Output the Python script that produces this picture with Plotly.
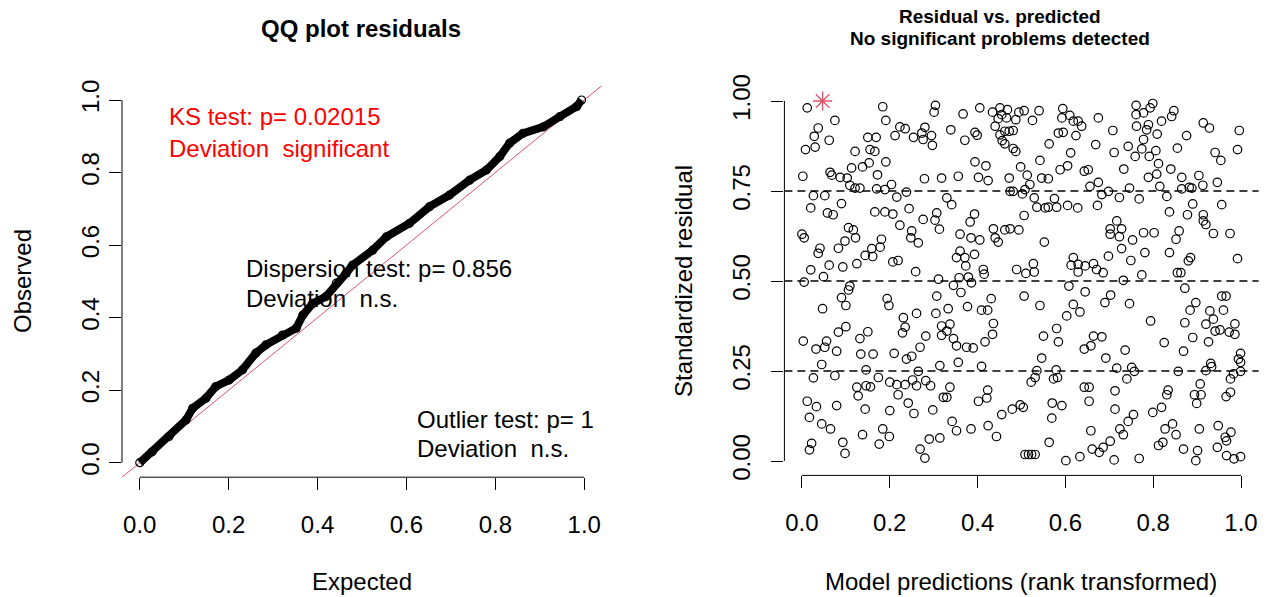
import plotly.graph_objects as go

# ---------------- data ----------------
# QQ plot of scaled residuals: expected vs observed quantiles
qq_expected = [0.0, 0.028, 0.066, 0.104, 0.119, 0.149, 0.171, 0.201, 0.231, 0.261, 0.284,
               0.321, 0.352, 0.367, 0.389, 0.419, 0.442, 0.464, 0.479, 0.524, 0.555, 0.607,
               0.652, 0.697, 0.742, 0.780, 0.810, 0.832, 0.862, 0.908, 0.945, 0.983, 0.994]
qq_observed = [0.0, 0.030, 0.072, 0.118, 0.150, 0.178, 0.210, 0.228, 0.256, 0.302, 0.325,
               0.352, 0.371, 0.407, 0.439, 0.458, 0.495, 0.522, 0.545, 0.586, 0.623, 0.660,
               0.706, 0.738, 0.779, 0.807, 0.844, 0.881, 0.908, 0.926, 0.954, 0.982, 1.0]

ks_text = ["KS test: p= 0.02015", "Deviation\u00a0\u00a0significant"]
disp_text = ["Dispersion test: p= 0.856", "Deviation\u00a0\u00a0n.s."]
outlier_text = ["Outlier test: p= 1", "Deviation\u00a0\u00a0n.s."]

# residuals vs rank-transformed predictions
resid_points = [
    (0.012,0.981),(0.184,0.984),(0.304,0.988),(0.301,0.969),(0.075,0.946),(0.191,0.946),(0.037,0.925),
    (0.223,0.928),(0.235,0.923),(0.280,0.927),(0.273,0.911),(0.028,0.902),(0.062,0.891),(0.150,0.899),
    (0.169,0.899),(0.212,0.904),(0.254,0.899),(0.276,0.893),(0.295,0.904),(0.297,0.877),(0.008,0.865),
    (0.030,0.872),(0.121,0.860),(0.155,0.865),(0.166,0.860),(0.191,0.831),(0.153,0.828),(0.138,0.817),
    (0.113,0.814),(0.002,0.791),(0.064,0.802),(0.068,0.794),(0.087,0.788),(0.103,0.786),(0.109,0.766),
    (0.132,0.758),(0.172,0.795),(0.279,0.784),(0.318,0.786),(0.170,0.756),(0.189,0.754),(0.204,0.768),
    (0.216,0.733),(0.238,0.747),(0.026,0.737),(0.052,0.737),(0.090,0.715),(0.020,0.703),(0.058,0.689),
    (0.071,0.684),(0.166,0.692),(0.189,0.692),(0.207,0.686),(0.244,0.701),(0.307,0.689),(0.121,0.758),
    (0.367,0.964),(0.405,0.981),(0.434,0.969),(0.451,0.981),(0.468,0.976),(0.455,0.962),(0.447,0.951),
    (0.466,0.953),(0.487,0.948),(0.494,0.969),(0.506,0.973),(0.540,0.973),(0.525,0.946),(0.594,0.979),
    (0.610,0.960),(0.592,0.953),(0.618,0.944),(0.629,0.944),(0.637,0.930),(0.675,0.953),(0.339,0.920),
    (0.394,0.913),(0.399,0.905),(0.371,0.891),(0.440,0.930),(0.451,0.906),(0.462,0.916),(0.472,0.916),
    (0.481,0.918),(0.456,0.890),(0.462,0.881),(0.481,0.868),(0.487,0.860),(0.584,0.911),(0.595,0.913),
    (0.624,0.904),(0.563,0.881),(0.669,0.879),(0.612,0.856),(0.542,0.835),(0.394,0.831),(0.419,0.820),
    (0.498,0.817),(0.588,0.809),(0.605,0.820),(0.643,0.805),(0.652,0.809),(0.356,0.791),(0.402,0.788),
    (0.424,0.779),(0.472,0.786),(0.513,0.794),(0.519,0.768),(0.546,0.786),(0.561,0.784),(0.656,0.763),
    (0.675,0.774),(0.474,0.749),(0.481,0.749),(0.502,0.742),(0.508,0.754),(0.529,0.731),(0.575,0.729),
    (0.330,0.731),(0.341,0.712),(0.535,0.705),(0.554,0.703),(0.561,0.705),(0.580,0.705),(0.605,0.710),
    (0.628,0.703),(0.673,0.710),(0.393,0.686),(0.506,0.682),
    (0.761,0.988),(0.799,0.993),(0.793,0.981),(0.778,0.967),(0.761,0.962),(0.847,0.973),(0.842,0.957),
    (0.819,0.944),(0.762,0.930),(0.789,0.934),(0.785,0.920),(0.708,0.918),(0.914,0.939),(0.928,0.925),
    (0.996,0.918),(0.809,0.908),(0.876,0.904),(0.778,0.893),(0.774,0.867),(0.743,0.874),(0.711,0.857),
    (0.759,0.846),(0.791,0.846),(0.806,0.862),(0.855,0.869),(0.941,0.857),(0.954,0.835),(0.992,0.865),
    (0.812,0.826),(0.733,0.811),(0.840,0.811),(0.808,0.797),(0.789,0.788),(0.865,0.788),(0.904,0.793),
    (0.946,0.774),(0.815,0.763),(0.865,0.756),(0.882,0.760),(0.888,0.758),(0.913,0.766),(0.746,0.758),
    (0.698,0.749),(0.683,0.740),(0.723,0.732),(0.768,0.728),(0.831,0.735),(0.890,0.714),(0.956,0.712),
    (0.837,0.692),(0.878,0.684),(0.914,0.684),
    (0.000,0.630),(0.005,0.620),(0.106,0.648),(0.117,0.642),(0.122,0.620),(0.098,0.611),(0.083,0.591),
    (0.041,0.591),(0.037,0.577),(0.181,0.616),(0.178,0.594),(0.159,0.590),(0.144,0.571),(0.161,0.568),
    (0.125,0.548),(0.093,0.539),(0.062,0.544),(0.020,0.531),(0.049,0.512),(0.005,0.497),(0.207,0.553),
    (0.219,0.557),(0.259,0.526),(0.223,0.655),(0.276,0.671),(0.303,0.669),(0.313,0.644),(0.250,0.639),
    (0.248,0.620),(0.265,0.606),(0.109,0.486),(0.106,0.475),(0.090,0.454),(0.100,0.432),(0.047,0.423),
    (0.194,0.451),(0.198,0.432),(0.311,0.505),(0.307,0.458),(0.305,0.410),(0.261,0.410),(0.231,0.398),
    (0.235,0.372),(0.229,0.356),(0.100,0.373),(0.083,0.358),(0.150,0.359),(0.132,0.340),(0.003,0.333),
    (0.056,0.333),(0.282,0.347),(0.318,0.349),(0.318,0.375),
    (0.383,0.664),(0.360,0.630),(0.385,0.620),(0.405,0.614),(0.436,0.645),(0.462,0.642),(0.474,0.645),
    (0.494,0.642),(0.440,0.620),(0.447,0.608),(0.552,0.608),(0.360,0.583),(0.352,0.565),(0.371,0.565),
    (0.393,0.574),(0.373,0.542),(0.413,0.532),(0.415,0.519),(0.358,0.509),(0.379,0.511),(0.386,0.495),
    (0.345,0.488),(0.362,0.468),(0.489,0.532),(0.510,0.521),(0.527,0.548),(0.529,0.525),(0.618,0.565),
    (0.613,0.544),(0.629,0.546),(0.645,0.542),(0.629,0.525),(0.664,0.548),(0.671,0.532),(0.333,0.423),
    (0.377,0.429),(0.431,0.451),(0.409,0.419),(0.423,0.419),(0.506,0.458),(0.542,0.432),(0.608,0.486),
    (0.645,0.470),(0.618,0.435),(0.633,0.414),(0.603,0.403),(0.436,0.382),(0.434,0.352),(0.337,0.380),
    (0.330,0.361),(0.345,0.340),(0.580,0.368),(0.550,0.347),(0.584,0.331),(0.664,0.347),(0.417,0.331),
    (0.717,0.667),(0.702,0.645),(0.728,0.645),(0.702,0.630),(0.723,0.623),(0.753,0.614),(0.778,0.634),
    (0.802,0.634),(0.859,0.639),(0.852,0.616),(0.914,0.667),(0.920,0.657),(0.937,0.632),(0.975,0.632),
    (0.728,0.590),(0.698,0.569),(0.749,0.557),(0.781,0.579),(0.837,0.579),(0.885,0.565),(0.880,0.556),
    (0.992,0.562),(0.686,0.523),(0.774,0.517),(0.855,0.523),(0.863,0.523),(0.732,0.502),(0.872,0.480),
    (0.703,0.461),(0.690,0.440),(0.746,0.437),(0.956,0.458),(0.966,0.458),(0.897,0.440),(0.884,0.419),
    (0.929,0.417),(0.960,0.419),(0.937,0.394),(0.794,0.389),(0.872,0.384),(0.920,0.380),(0.986,0.381),
    (0.941,0.361),(0.952,0.364),(0.973,0.358),(0.986,0.352),(0.683,0.345),(0.890,0.343),(0.825,0.329),
    (0.926,0.331),
    (0.032,0.311),(0.052,0.316),(0.079,0.305),(0.134,0.297),(0.162,0.297),(0.210,0.299),(0.238,0.283),
    (0.250,0.291),(0.269,0.316),(0.045,0.268),(0.026,0.231),(0.075,0.237),(0.146,0.253),(0.174,0.232),
    (0.125,0.205),(0.146,0.209),(0.156,0.206),(0.128,0.181),(0.200,0.219),(0.216,0.212),(0.235,0.212),
    (0.252,0.225),(0.261,0.209),(0.282,0.223),(0.293,0.209),(0.265,0.249),(0.314,0.265),(0.219,0.184),
    (0.242,0.161),(0.255,0.132),(0.322,0.177),(0.298,0.142),(0.012,0.166),(0.033,0.151),(0.079,0.154),
    (0.144,0.144),(0.200,0.140),(0.017,0.121),(0.045,0.103),(0.065,0.089),(0.138,0.073),(0.184,0.089),
    (0.199,0.068),(0.176,0.047),(0.290,0.061),(0.314,0.064),(0.022,0.049),(0.017,0.031),(0.093,0.052),
    (0.098,0.021),(0.269,0.033),(0.280,0.008),
    (0.352,0.320),(0.375,0.316),(0.390,0.314),(0.643,0.311),(0.658,0.320),(0.356,0.274),(0.409,0.263),
    (0.546,0.286),(0.535,0.251),(0.531,0.232),(0.522,0.219),(0.579,0.253),(0.582,0.232),(0.573,0.228),
    (0.337,0.205),(0.330,0.177),(0.423,0.197),(0.421,0.175),(0.402,0.166),(0.643,0.205),(0.654,0.205),
    (0.654,0.166),(0.570,0.161),(0.592,0.154),(0.569,0.119),(0.497,0.156),(0.504,0.149),(0.479,0.144),
    (0.455,0.129),(0.342,0.110),(0.352,0.084),(0.385,0.089),(0.424,0.098),(0.443,0.068),(0.658,0.084),
    (0.563,0.052),(0.508,0.018),(0.516,0.018),(0.523,0.018),(0.531,0.018),(0.601,0.001),(0.633,0.012),
    (0.661,0.033),(0.677,0.024),
    (0.736,0.308),(0.869,0.305),(0.692,0.286),(0.717,0.258),(0.740,0.228),(0.751,0.260),(0.757,0.249),
    (0.857,0.249),(0.920,0.251),(0.931,0.271),(0.933,0.262),(0.999,0.299),(0.994,0.283),(0.999,0.274),
    (0.999,0.249),(0.983,0.242),(0.976,0.228),(0.713,0.195),(0.713,0.144),(0.834,0.197),(0.831,0.184),
    (0.907,0.214),(0.894,0.184),(0.909,0.184),(0.899,0.160),(0.966,0.179),(0.976,0.191),(0.819,0.149),
    (0.799,0.135),(0.755,0.129),(0.743,0.110),(0.724,0.089),(0.732,0.073),(0.702,0.055),(0.686,0.038),
    (0.711,0.003),(0.768,0.007),(0.844,0.103),(0.827,0.089),(0.852,0.073),(0.822,0.052),(0.812,0.043),
    (0.869,0.033),(0.901,0.029),(0.897,0.001),(0.905,0.089),(0.948,0.098),(0.964,0.066),(0.977,0.080),
    (0.967,0.056),(0.946,0.038),(0.967,0.015),(0.984,0.006),(0.999,0.012),
]
pred_rank = [p[0] for p in resid_points]
std_resid = [p[1] for p in resid_points]

# flagged outlier (residual at the upper boundary)
outlier_x = [0.047]
outlier_y = [1.0]

quantile_levels = [0.25, 0.5, 0.75]

qq_ticks = [0.0, 0.2, 0.4, 0.6, 0.8, 1.0]
res_xticks = [0.0, 0.2, 0.4, 0.6, 0.8, 1.0]
res_yticks = [0.0, 0.25, 0.5, 0.75, 1.0]

# ---------------- layout helpers ----------------
W, H = 1272, 597
FONT = "Liberation Sans, Arial, sans-serif"
RED2 = "#DF536B"
AX_RANGE = [-0.04, 1.04]


def px_x(p):
    return p / W


def px_y(p):
    return (H - p) / H


fig = go.Figure()

# identity reference line across the full QQ panel
fig.add_trace(go.Scatter(x=AX_RANGE, y=AX_RANGE, mode="lines",
                         line=dict(color=RED2, width=1), xaxis="x", yaxis="y",
                         hoverinfo="skip"))
# observed quantiles
fig.add_trace(go.Scatter(x=qq_expected, y=qq_observed, mode="lines+markers",
                         line=dict(color="black", width=8),
                         marker=dict(symbol="circle-open", size=8, color="black",
                                     line=dict(width=1.2)),
                         xaxis="x", yaxis="y"))
# residual scatter
fig.add_trace(go.Scatter(x=pred_rank, y=std_resid, mode="markers",
                         marker=dict(symbol="circle-open", size=8.5, color="black",
                                     line=dict(width=1.2)),
                         xaxis="x2", yaxis="y2"))
fig.add_trace(go.Scatter(x=outlier_x, y=outlier_y, mode="markers",
                         marker=dict(symbol="asterisk-open", size=16, color=RED2,
                                     line=dict(width=1.3, color=RED2)),
                         xaxis="x2", yaxis="y2"))

axis_common = dict(range=AX_RANGE, showgrid=False, zeroline=False, showline=False,
                   automargin=False,
                   ticks="outside", ticklen=12, tickwidth=1, tickcolor="black",
                   tickfont=dict(family=FONT, size=24, color="black"), fixedrange=True)

fig.update_layout(
    template="none",
    width=W, height=H,
    margin=dict(l=0, r=0, t=0, b=0, autoexpand=False),
    paper_bgcolor="white", plot_bgcolor="white",
    showlegend=False,
    xaxis=dict(domain=[px_x(122), px_x(602)], anchor="y",
               tickvals=qq_ticks, ticktext=[f"{v:.1f}" for v in qq_ticks],
               ticklabelstandoff=14, **axis_common),
    yaxis=dict(domain=[px_y(477.2), px_y(85.5)], anchor="x",
               tickvals=qq_ticks, ticktext=[f"{v:.1f}" for v in qq_ticks],
               tickangle=-90, ticklabelstandoff=0, **axis_common),
    xaxis2=dict(domain=[px_x(784.4), px_x(1258.6)], anchor="y2",
                tickvals=res_xticks, ticktext=[f"{v:.1f}" for v in res_xticks],
                ticklabelstandoff=14, **axis_common),
    yaxis2=dict(domain=[px_y(475.4), px_y(86.6)], anchor="x2",
                tickvals=res_yticks, ticktext=[f"{v:.2f}" for v in res_yticks],
                tickangle=-90, ticklabelstandoff=12, **axis_common),
)

# axis lines spanning first to last tick
shapes = []
for xr, yr, xt, yt in [("x", "y", qq_ticks, qq_ticks), ("x2", "y2", res_xticks, res_yticks)]:
    shapes.append(dict(type="line", xref=xr, yref=f"{yr} domain", x0=xt[0], x1=xt[-1],
                       y0=0, y1=0, line=dict(color="black", width=1)))
    shapes.append(dict(type="line", xref=f"{xr} domain", yref=yr, x0=0, x1=0,
                       y0=yt[0], y1=yt[-1], line=dict(color="black", width=1)))
# dashed quantile guides
for q in quantile_levels:
    shapes.append(dict(type="line", xref="x2 domain", yref="y2", x0=0, x1=1, y0=q, y1=q,
                       line=dict(color="black", width=1.5, dash="8px,5px")))
fig.update_layout(shapes=shapes)


def note(text, x, y, size=24, color="black", bold=False, angle=0, xanchor="center"):
    if bold:
        text = f"<b>{text}</b>"
    fig.add_annotation(text=text, xref="paper", yref="paper", x=px_x(x), y=px_y(y),
                       xanchor=xanchor, yanchor="middle", showarrow=False, textangle=angle,
                       font=dict(family=FONT, size=size, color=color))


# titles
note("QQ plot residuals", 361, 28, bold=True)
note("Residual vs. predicted", 1000, 16, size=19, bold=True)
note("No significant problems detected", 1000, 39, size=19, bold=True)

# axis titles
note("Expected", 362, 581)
note("Observed", 22, 281, angle=-90)
note("Model predictions (rank transformed)", 1021, 581)
note("Standardized residual", 683, 281, angle=-90)

# test results
note(ks_text[0], 167, 117, color="#FF0000", xanchor="left")
note(ks_text[1], 167, 148, color="#FF0000", xanchor="left")
note(disp_text[0], 244, 268, xanchor="left")
note(disp_text[1], 244, 298, xanchor="left")
note(outlier_text[0], 415, 420, xanchor="left")
note(outlier_text[1], 415, 448, xanchor="left")

fig.write_html("out.html")
